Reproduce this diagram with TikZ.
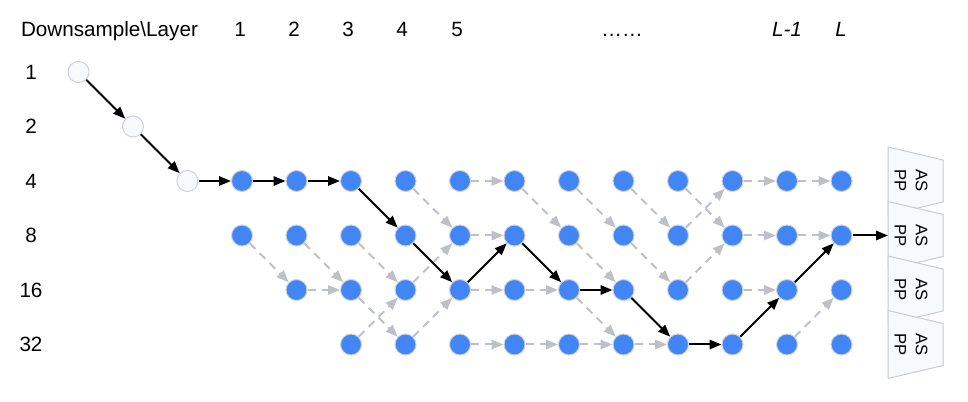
\documentclass[tikz,border=0pt]{standalone}
\usepackage{fontspec}
\setmainfont{Liberation Sans}
\usetikzlibrary{arrows.meta}

\begin{document}
\begin{tikzpicture}[x=0.75pt,y=0.75pt,yscale=-1,xscale=1,
  cell/.style={circle,draw={rgb, 255:red, 205; green, 210; blue, 222},line width=0.75pt,fill={rgb, 255:red, 66; green, 133; blue, 244},minimum size=15.75pt,inner sep=0pt},
  stem/.style={cell,fill={rgb, 255:red, 248; green, 249; blue, 250}},
  route/.style={draw=black,line width=1.5pt,-{Triangle[length=9pt,width=7pt]}},
  skip/.style={draw={rgb, 255:red, 189; green, 193; blue, 198},line width=1.5pt,dash pattern={on 6pt off 4.5pt},-{Triangle[length=9pt,width=7pt]}},
  aspp/.style={draw={rgb, 255:red, 200; green, 204; blue, 208},fill={rgb, 255:red, 248; green, 249; blue, 250},line width=0.75pt},
  heading/.style={font=\fontsize{15.5}{18}\selectfont},
  aspptext/.style={font=\fontsize{12.5}{16}\selectfont,align=center,rotate=-90,inner sep=0pt}
]
%set diagram size
\useasboundingbox (0,0) rectangle (968,402);

% Text Node
\node [heading,anchor=base] (corner) at (109.5,37) {Downsample\textbackslash Layer};
\node [heading,anchor=base] (t1) at (240,37) {1};
\node [heading,anchor=base] (t2) at (294,37) {2};
\node [heading,anchor=base] (t3) at (348,37) {3};
\node [heading,anchor=base] (t4) at (402,37) {4};
\node [heading,anchor=base] (t5) at (457,37) {5};
\node [heading,anchor=base] (tdots) at (622,37) {……};
\node [heading,anchor=base] (tlm) at (787,37) {\itshape L-1};
\node [heading,anchor=base] (tl) at (841,37) {\itshape L};
% Text Node
\node [heading] (s1) at (31,72) {1};
\node [heading] (s2) at (31,126.5) {2};
\node [heading] (s4) at (31,181) {4};
\node [heading] (s8) at (31,235.5) {8};
\node [heading] (s16) at (31,290) {16};
\node [heading] (s32) at (31,344.5) {32};

%Shape: Circle (stem)
\node [stem] (stem1) at (78.5,72) {};
\node [stem] (stem2) at (133,126.5) {};
\node [stem] (stem4) at (187.5,181) {};

%Shape: Circle (downsample 4)
\node [cell] (d4l1) at (242,181) {};
\node [cell] (d4l2) at (296.5,181) {};
\node [cell] (d4l3) at (351,181) {};
\node [cell] (d4l4) at (405.5,181) {};
\node [cell] (d4l5) at (460,181) {};
\node [cell] (d4l6) at (514.5,181) {};
\node [cell] (d4l7) at (569,181) {};
\node [cell] (d4l8) at (623.5,181) {};
\node [cell] (d4l9) at (678,181) {};
\node [cell] (d4l10) at (732.5,181) {};
\node [cell] (d4l11) at (787,181) {};
\node [cell] (d4l12) at (841.5,181) {};
%Shape: Circle (downsample 8)
\node [cell] (d8l1) at (242,235.5) {};
\node [cell] (d8l2) at (296.5,235.5) {};
\node [cell] (d8l3) at (351,235.5) {};
\node [cell] (d8l4) at (405.5,235.5) {};
\node [cell] (d8l5) at (460,235.5) {};
\node [cell] (d8l6) at (514.5,235.5) {};
\node [cell] (d8l7) at (569,235.5) {};
\node [cell] (d8l8) at (623.5,235.5) {};
\node [cell] (d8l9) at (678,235.5) {};
\node [cell] (d8l10) at (732.5,235.5) {};
\node [cell] (d8l11) at (787,235.5) {};
\node [cell] (d8l12) at (841.5,235.5) {};
%Shape: Circle (downsample 16)
\node [cell] (d16l2) at (296.5,290) {};
\node [cell] (d16l3) at (351,290) {};
\node [cell] (d16l4) at (405.5,290) {};
\node [cell] (d16l5) at (460,290) {};
\node [cell] (d16l6) at (514.5,290) {};
\node [cell] (d16l7) at (569,290) {};
\node [cell] (d16l8) at (623.5,290) {};
\node [cell] (d16l9) at (678,290) {};
\node [cell] (d16l10) at (732.5,290) {};
\node [cell] (d16l11) at (787,290) {};
\node [cell] (d16l12) at (841.5,290) {};
%Shape: Circle (downsample 32)
\node [cell] (d32l3) at (351,344.5) {};
\node [cell] (d32l4) at (405.5,344.5) {};
\node [cell] (d32l5) at (460,344.5) {};
\node [cell] (d32l6) at (514.5,344.5) {};
\node [cell] (d32l7) at (569,344.5) {};
\node [cell] (d32l8) at (623.5,344.5) {};
\node [cell] (d32l9) at (678,344.5) {};
\node [cell] (d32l10) at (732.5,344.5) {};
\node [cell] (d32l11) at (787,344.5) {};
\node [cell] (d32l12) at (841.5,344.5) {};

%Shape: Trapezoid (ASPP)
\draw [aspp] (888,147) -- (943,160) -- (943,202) -- (888,215) -- cycle;
\node [aspptext] (aspp1) at (911,181) {AS\\PP};
\draw [aspp] (888,201.5) -- (943,214.5) -- (943,256.5) -- (888,269.5) -- cycle;
\node [aspptext] (aspp2) at (911,235.5) {AS\\PP};
\draw [aspp] (888,256) -- (943,269) -- (943,311) -- (888,324) -- cycle;
\node [aspptext] (aspp3) at (911,290) {AS\\PP};
\draw [aspp] (888,310.5) -- (943,323.5) -- (943,365.5) -- (888,378.5) -- cycle;
\node [aspptext] (aspp4) at (911,344.5) {AS\\PP};
\coordinate (aspp2in) at (888,235.5);

%Straight Lines (skipped connections)
\draw [skip] (d8l1) -- (d16l2);
\draw [skip] (d16l2) -- (d16l3);
\draw [skip] (d8l2) -- (d16l3);
\draw [skip] (d8l3) -- (d16l4);
\draw [skip] (d16l3) -- (d32l4);
\draw [skip] (d32l3) -- (d16l4);
\draw [skip] (d4l4) -- (d8l5);
\draw [skip] (d16l4) -- (d8l5);
\draw [skip] (d32l4) -- (d16l5);
\draw [skip] (d4l5) -- (d4l6);
\draw [skip] (d8l5) -- (d8l6);
\draw [skip] (d16l5) -- (d16l6);
\draw [skip] (d32l5) -- (d32l6);
\draw [skip] (d4l6) -- (d8l7);
\draw [skip] (d16l6) -- (d16l7);
\draw [skip] (d32l6) -- (d32l7);
\draw [skip] (d4l7) -- (d8l8);
\draw [skip] (d8l7) -- (d16l8);
\draw [skip] (d16l7) -- (d32l8);
\draw [skip] (d32l7) -- (d32l8);
\draw [skip] (d4l8) -- (d8l9);
\draw [skip] (d8l8) -- (d16l9);
\draw [skip] (d32l8) -- (d32l9);
\draw [skip] (d4l9) -- (d8l10);
\draw [skip] (d8l9) -- (d4l10);
\draw [skip] (d16l9) -- (d8l10);
\draw [skip] (d4l10) -- (d4l11);
\draw [skip] (d8l10) -- (d8l11);
\draw [skip] (d16l10) -- (d16l11);
\draw [skip] (d4l11) -- (d4l12);
\draw [skip] (d8l11) -- (d8l12);
\draw [skip] (d32l11) -- (d16l12);

%Straight Lines (searched path)
\draw [route] (stem1) -- (stem2);
\draw [route] (stem2) -- (stem4);
\draw [route] (stem4) -- (d4l1);
\draw [route] (d4l1) -- (d4l2);
\draw [route] (d4l2) -- (d4l3);
\draw [route] (d4l3) -- (d8l4);
\draw [route] (d8l4) -- (d16l5);
\draw [route] (d16l5) -- (d8l6);
\draw [route] (d8l6) -- (d16l7);
\draw [route] (d16l7) -- (d16l8);
\draw [route] (d16l8) -- (d32l9);
\draw [route] (d32l9) -- (d32l10);
\draw [route] (d32l10) -- (d16l11);
\draw [route] (d16l11) -- (d8l12);
\draw [route] (d8l12) -- (aspp2in);

\end{tikzpicture}
\end{document}
